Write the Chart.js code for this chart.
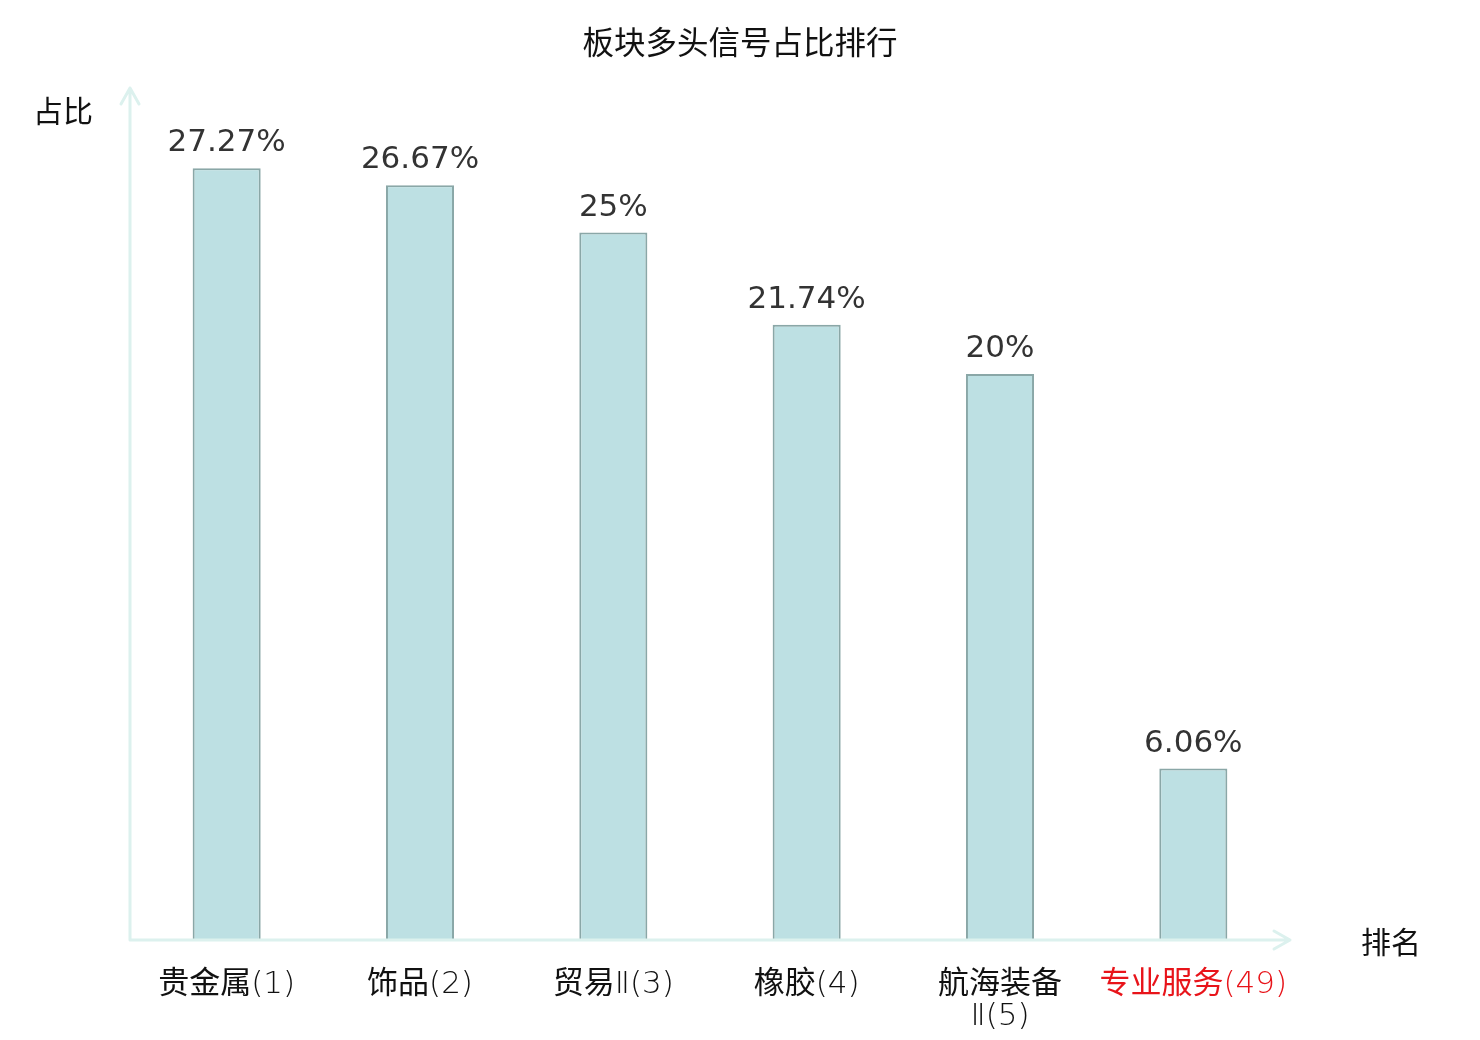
<!DOCTYPE html>
<html>
<head>
<meta charset="utf-8">
<script src="https://cdn.jsdelivr.net/npm/chart.js@4"></script>
<style>
html,body{margin:0;padding:0;background:#fff;}
#wrap{width:1480px;height:1040px;}
</style>
</head>
<body>
<div id="wrap"><canvas id="c" width="1480" height="1040"></canvas></div>
<script>
const chartTitle = '板块多头信号占比排行';
const yAxisTitle = '占比';
const xAxisTitle = '排名';
const categories = [['贵金属(1)'], ['饰品(2)'], ['贸易Ⅱ(3)'], ['橡胶(4)'], ['航海装备', 'Ⅱ(5)'], ['专业服务(49)']];
const values = [27.27, 26.67, 25, 21.74, 20, 6.06];
const valueLabels = ['27.27%', '26.67%', '25%', '21.74%', '20%', '6.06%'];
const labelColors = ['#111', '#111', '#111', '#111', '#111', '#e8141a'];
const yMax = 30;

const AXIS_COLOR = '#dcf1ee';
const CJK = '"Noto Sans CJK SC", "DejaVu Sans", sans-serif';
const NUM = '"DejaVu Sans", "Noto Sans CJK SC", sans-serif';
const TICK = '"DejaVu Sans Light", "Noto Sans CJK SC", sans-serif';

const decor = {
  id: 'decor',
  afterDatasetsDraw(chart) {
    const ctx = chart.ctx;
    const a = chart.chartArea;
    const ys = chart.scales.y;
    const x0 = a.left, y0 = ys.getPixelForValue(0);
    const yTop = ys.getPixelForValue(yMax) - 3;
    const xEnd = a.right;
    ctx.save();
    ctx.strokeStyle = AXIS_COLOR;
    ctx.lineWidth = 3;
    ctx.lineCap = 'round';
    ctx.lineJoin = 'round';
    ctx.beginPath();
    ctx.moveTo(x0, y0); ctx.lineTo(x0, yTop);
    ctx.moveTo(x0 - 9, yTop + 16); ctx.lineTo(x0, yTop); ctx.lineTo(x0 + 9, yTop + 16);
    ctx.moveTo(x0, y0); ctx.lineTo(xEnd, y0);
    ctx.moveTo(xEnd - 16, y0 - 9); ctx.lineTo(xEnd, y0); ctx.lineTo(xEnd - 16, y0 + 9);
    ctx.stroke();

    // value labels
    ctx.fillStyle = '#333';
    ctx.font = '31px ' + NUM;
    ctx.textAlign = 'center';
    ctx.textBaseline = 'alphabetic';
    const meta = chart.getDatasetMeta(0);
    meta.data.forEach((bar, i) => {
      ctx.fillText(valueLabels[i], bar.x, bar.y - 17);
    });

    // title & axis names
    ctx.fillStyle = '#111';
    ctx.font = '31.5px ' + CJK;
    ctx.textBaseline = 'middle';
    ctx.fillText(chartTitle, 740, 42);
    ctx.font = '30px ' + CJK;
    ctx.fillText(yAxisTitle, 63, 111);
    ctx.fillText(xAxisTitle, 1391, 942);
    ctx.restore();
  }
};

new Chart(document.getElementById('c'), {
  type: 'bar',
  data: {
    labels: categories,
    datasets: [{
      data: values,
      backgroundColor: '#bde0e3',
      borderColor: '#8aa7a7',
      borderWidth: 2,
      barPercentage: 0.352,
      categoryPercentage: 1.0
    }]
  },
  options: {
    responsive: false,
    animation: false,
    devicePixelRatio: 1,
    layout: { padding: { left: 130, right: 190, top: 91, bottom: 0 } },
    plugins: { legend: { display: false }, tooltip: { enabled: false }, title: { display: false } },
    scales: {
      x: {
        grid: { display: false, drawTicks: false },
        border: { display: false },
        ticks: {
          padding: 29,
          maxRotation: 0,
          autoSkip: false,
          color: (c) => labelColors[c.index],
          font: { family: TICK, size: 31, lineHeight: 1.03 }
        },
        afterFit(scale) { scale.height = 100; }
      },
      y: {
        display: false,
        min: 0,
        max: yMax
      }
    }
  },
  plugins: [decor]
});
</script>
</body>
</html>
